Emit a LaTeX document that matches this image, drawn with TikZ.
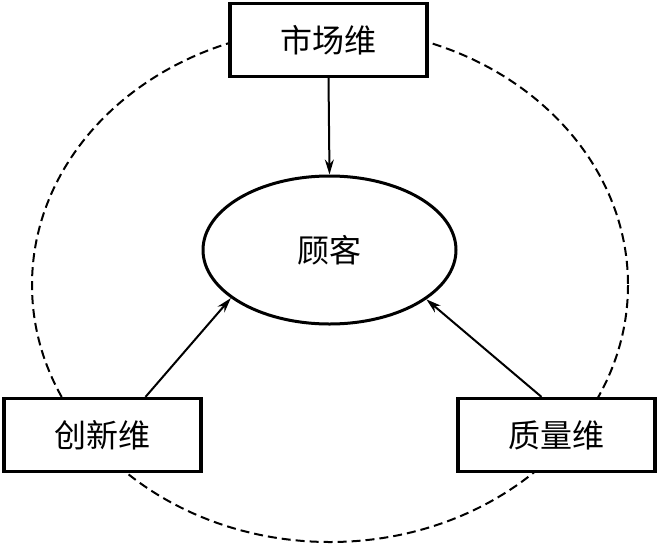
\documentclass[tikz,border=0pt]{standalone}
\usepackage{fontspec}
\newfontfamily\cjk{Noto Sans CJK SC}
\usetikzlibrary{arrows.meta,shapes.geometric}

\begin{document}
\begin{tikzpicture}[x=1pt,y=-1pt,
  dimbox/.style={draw,fill=white,line width=3.2pt,minimum width=197pt,
    minimum height=73pt,font=\cjk\fontsize{32}{36}\selectfont},
  custnode/.style={ellipse,draw,line width=3pt,minimum width=253pt,
    minimum height=148pt,font=\cjk\fontsize{32}{36}\selectfont},
  arr/.style={-{Stealth[length=15pt,width=9pt]},line width=2pt}]
\useasboundingbox(0,0)rectangle(658,544);
% dashed outer ring
\draw[dash pattern=on 9pt off 5pt,line width=2pt](330,285)ellipse[x radius=298,y radius=257];
\node[custnode](cust)at(329.5,250){顾客};
\node[dimbox](market)at(328.5,40){市场维};
\node[dimbox](innov)at(102.5,435){创新维};
\node[dimbox](qual)at(556.5,435){质量维};
\draw[arr](market.south)--(cust.north);
\draw[arr]([xshift=43pt]innov.north)--(cust.206);
\draw[arr]([xshift=-15pt]qual.north)--(cust.333);
\end{tikzpicture}
\end{document}
